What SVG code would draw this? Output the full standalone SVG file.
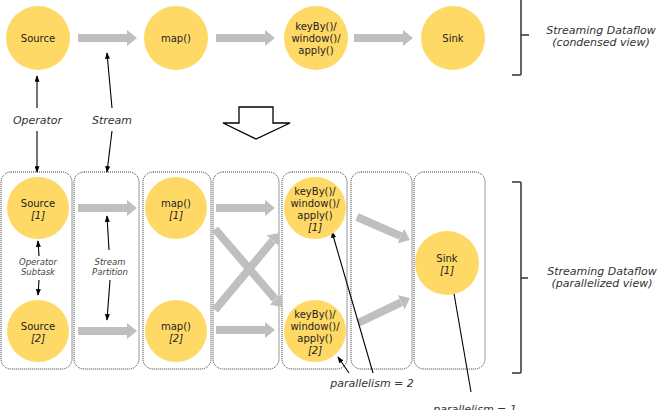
<svg xmlns="http://www.w3.org/2000/svg" width="658" height="410" viewBox="0 0 658 410">
<style>
.n{fill:#FFD966;stroke:none}
.t{font-family:"DejaVu Sans",Verdana,sans-serif;font-size:10px;fill:#222;text-anchor:middle}
.i{font-style:italic}
.lbl{font-family:"DejaVu Sans",Verdana,sans-serif;font-size:11px;font-style:italic;fill:#333;text-anchor:middle}
.sm{font-family:"DejaVu Sans",Verdana,sans-serif;font-size:8.5px;font-style:italic;fill:#444;text-anchor:middle}
.box{fill:none;stroke:#333;stroke-width:1;stroke-dasharray:1 1}
.flow{stroke:#BFBFBF;stroke-width:8;fill:none;marker-end:url(#gh)}
.call{stroke:#000;stroke-width:1.1;fill:none;marker-end:url(#bh)}
.br{stroke:#333;stroke-width:1.5;fill:none}
</style>
<defs>
<marker id="gh" viewBox="0 0 10 16" refX="0" refY="8" markerWidth="1.25" markerHeight="2" orient="auto" markerUnits="strokeWidth"><path d="M0,0 L10,8 L0,16 z" fill="#BFBFBF"/></marker>
<marker id="bh" viewBox="0 0 8 6" refX="7" refY="3" markerWidth="7" markerHeight="5" orient="auto" markerUnits="userSpaceOnUse"><path d="M0,0 L8,3 L0,6 z" fill="#000"/></marker>
</defs>
<rect width="658" height="410" fill="#fff"/>

<g id="partitions">
<rect class="box" x="1" y="172" width="71" height="197" rx="10"/>
<rect class="box" x="74" y="172" width="65" height="197" rx="10"/>
<rect class="box" x="143" y="172" width="68" height="197" rx="10"/>
<rect class="box" x="213" y="172" width="66" height="197" rx="10"/>
<rect class="box" x="282" y="172" width="65" height="197" rx="10"/>
<rect class="box" x="351" y="172" width="61" height="197" rx="10"/>
<rect class="box" x="414" y="172" width="71" height="197" rx="10"/>
</g>

<g id="connectors">
<line class="flow" x1="78" y1="38" x2="127" y2="38"/>
<line class="flow" x1="216" y1="38" x2="265" y2="38"/>
<line class="flow" x1="354" y1="38" x2="403" y2="38"/>
<line class="flow" x1="78" y1="208" x2="127" y2="208"/>
<line class="flow" x1="78" y1="331" x2="127" y2="331"/>
<line class="flow" x1="216" y1="208" x2="265" y2="208"/>
<line class="flow" x1="216" y1="330" x2="265" y2="330"/>
<line class="flow" x1="215" y1="229" x2="275.5" y2="299.4"/>
<line class="flow" x1="215" y1="310" x2="272.6" y2="240.7"/>
<line class="flow" x1="357" y1="217" x2="400.8" y2="236.1"/>
<line class="flow" x1="358" y1="323" x2="401" y2="302.3"/>
<line class="call" x1="37" y1="108" x2="37" y2="76"/>
<line class="call" x1="37" y1="131" x2="37" y2="172"/>
<line class="call" x1="112" y1="108" x2="107" y2="53"/>
<line class="call" x1="112" y1="131" x2="107" y2="172"/>
<line class="call" x1="39" y1="256" x2="38" y2="241"/>
<line class="call" x1="39" y1="280" x2="38" y2="295"/>
<line class="call" x1="109" y1="250" x2="107" y2="216"/>
<line class="call" x1="110" y1="280" x2="107" y2="320"/>
<line class="call" x1="373" y1="373" x2="332" y2="232"/>
<line class="call" x1="349" y1="373" x2="338" y2="357"/>
<line class="call" x1="471" y1="392" x2="452" y2="282"/>
</g>

<g id="source"><circle class="n" cx="38" cy="38" r="32"/><text class="t" x="38" y="41.5">Source</text></g>
<g id="map"><circle class="n" cx="176" cy="38" r="32"/><text class="t" x="176" y="41.5">map()</text></g>
<g id="keyby"><circle class="n" cx="316" cy="38" r="32"/><text class="t" x="316" y="29.5">keyBy()/</text><text class="t" x="316" y="41.5">window()/</text><text class="t" x="316" y="53.5">apply()</text></g>
<g id="sink"><circle class="n" cx="453" cy="38" r="32"/><text class="t" x="453" y="41.5">Sink</text></g>

<g id="source1"><circle class="n" cx="38" cy="208" r="31"/><text class="t" x="38" y="206.5">Source</text><text class="t i" x="38" y="218.5">[1]</text></g>
<g id="source2"><circle class="n" cx="38" cy="331" r="31"/><text class="t" x="38" y="329.5">Source</text><text class="t i" x="38" y="341.5">[2]</text></g>
<g id="map1"><circle class="n" cx="176" cy="208" r="31"/><text class="t" x="176" y="206.5">map()</text><text class="t i" x="176" y="218.5">[1]</text></g>
<g id="map2"><circle class="n" cx="176" cy="331" r="31"/><text class="t" x="176" y="329.5">map()</text><text class="t i" x="176" y="341.5">[2]</text></g>
<g id="keyby1"><circle class="n" cx="315" cy="208" r="31"/><text class="t" x="315" y="194.5">keyBy()/</text><text class="t" x="315" y="206.5">window()/</text><text class="t" x="315" y="218.5">apply()</text><text class="t i" x="315" y="230.5">[1]</text></g>
<g id="keyby2"><circle class="n" cx="315" cy="331" r="31"/><text class="t" x="315" y="317.5">keyBy()/</text><text class="t" x="315" y="329.5">window()/</text><text class="t" x="315" y="341.5">apply()</text><text class="t i" x="315" y="353.5">[2]</text></g>
<g id="sink1"><circle class="n" cx="447" cy="263" r="32"/><text class="t" x="447" y="261.5">Sink</text><text class="t i" x="447" y="273.5">[1]</text></g>

<g id="labels">
<text class="lbl" x="37.5" y="124">Operator</text>
<text class="lbl" x="112" y="124">Stream</text>
<text class="sm" x="38" y="265">Operator</text>
<text class="sm" x="38" y="275">Subtask</text>
<text class="sm" x="110" y="265">Stream</text>
<text class="sm" x="110" y="275">Partition</text>
<text class="lbl" x="372" y="387">parallelism = 2</text>
<text class="lbl" x="475" y="413">parallelism = 1</text>
<text class="lbl" x="601" y="34">Streaming Dataflow</text>
<text class="lbl" x="601" y="46">(condensed view)</text>
<text class="lbl" x="602" y="275">Streaming Dataflow</text>
<text class="lbl" x="602" y="287">(parallelized view)</text>
</g>

<g id="transform-arrow"><polygon points="239,107 273,107 273,123 290,123 256,139 223,123 239,123" fill="#fff" stroke="#000" stroke-width="1.3"/></g>
<g id="brackets">
<path class="br" d="M521,0 L521,35 L529,35 M521,35 L521,74 Q521,75 520,75 L512,75"/>
<path class="br" d="M512,182 L520,182 Q521,182 521,183 L521,278 L528,278 M521,278 L521,372 Q521,373 520,373 L512,373"/>
</g>
</svg>
